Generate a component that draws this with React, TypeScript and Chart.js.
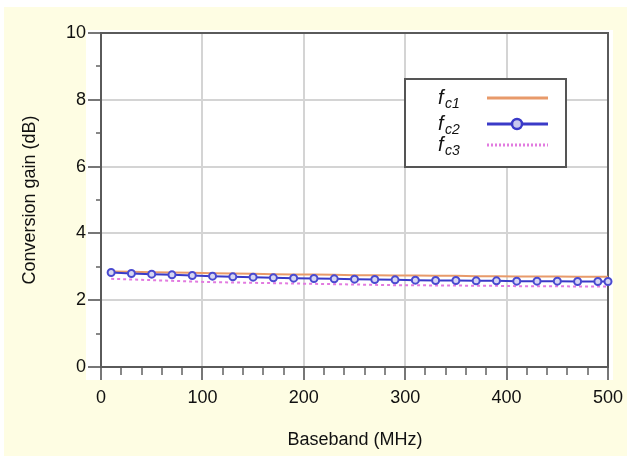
import React, { useEffect, useRef } from "react";
import { Chart, registerables } from "chart.js";

Chart.register(...registerables);

const xValues = [10, 30, 50, 70, 90, 110, 130, 150, 170, 190, 210, 230, 250, 270, 290, 310, 330, 350, 370, 390, 410, 430, 450, 470, 490, 500];
const fc1 = [2.86, 2.85, 2.84, 2.83, 2.82, 2.81, 2.8, 2.79, 2.78, 2.77, 2.77, 2.76, 2.75, 2.75, 2.74, 2.74, 2.73, 2.73, 2.72, 2.72, 2.71, 2.71, 2.71, 2.7, 2.7, 2.7];
const fc2 = [2.83, 2.8, 2.78, 2.76, 2.74, 2.72, 2.7, 2.69, 2.67, 2.66, 2.65, 2.64, 2.63, 2.62, 2.61, 2.6, 2.59, 2.59, 2.58, 2.58, 2.57, 2.57, 2.57, 2.56, 2.56, 2.56];
const fc3 = [2.64, 2.62, 2.6, 2.58, 2.56, 2.54, 2.53, 2.52, 2.51, 2.5, 2.49, 2.48, 2.47, 2.46, 2.45, 2.45, 2.44, 2.44, 2.43, 2.43, 2.42, 2.42, 2.42, 2.41, 2.41, 2.41];
const xTicks = [0, 100, 200, 300, 400, 500];
const yTicks = [0, 2, 4, 6, 8, 10];
const seriesNames = ["c1", "c2", "c3"];
const xTitle = "Baseband (MHz)";
const yTitle = "Conversion gain (dB)";

const ORANGE = "#E89A6A";
const BLUE = "#3A3AC8";
const PINK = "#E27BE0";
const FONT = "'Liberation Sans', Arial, sans-serif";

const decorPlugin = {
  id: "decor",
  beforeDraw(chart: any) {
    const ctx = chart.ctx;
    const { left, right, top, bottom } = chart.chartArea;
    const xs = chart.scales.x;
    const ys = chart.scales.y;
    ctx.save();
    ctx.fillStyle = "#ffffff";
    ctx.fillRect(0, 0, chart.width, chart.height);
    ctx.fillStyle = "#FEFDE3";
    ctx.fillRect(4, 7, 623, 449);
    ctx.fillStyle = "#ffffff";
    ctx.fillRect(left - 15, top - 3, right - left + 20, bottom - top + 16);

    // grid
    ctx.strokeStyle = "#d4d4d4";
    ctx.lineWidth = 2;
    for (const v of xTicks) {
      if (v === 0 || v === 500) continue;
      const px = Math.round(xs.getPixelForValue(v));
      ctx.beginPath();
      ctx.moveTo(px, top);
      ctx.lineTo(px, bottom);
      ctx.stroke();
    }
    for (const v of yTicks) {
      if (v === 0 || v === 10) continue;
      const py = Math.round(ys.getPixelForValue(v));
      ctx.beginPath();
      ctx.moveTo(left, py);
      ctx.lineTo(right, py);
      ctx.stroke();
    }

    // ticks
    ctx.lineWidth = 2;
    for (let v = 0; v <= 500; v += 20) {
      const px = Math.round(xs.getPixelForValue(v));
      const major = v % 100 === 0;
      ctx.strokeStyle = major ? "#777" : "#888";
      ctx.beginPath();
      ctx.moveTo(px, bottom);
      ctx.lineTo(px, bottom + (major ? 13 : 8));
      ctx.stroke();
    }
    for (let v = 0; v <= 10; v += 1) {
      const py = Math.round(ys.getPixelForValue(v));
      const major = v % 2 === 0;
      ctx.strokeStyle = major ? "#777" : "#888";
      ctx.beginPath();
      ctx.moveTo(left, py);
      ctx.lineTo(left - (major ? 13 : 5), py);
      ctx.stroke();
    }

    // frame
    ctx.strokeStyle = "#5a5a5a";
    ctx.lineWidth = 2;
    ctx.strokeRect(left, top, right - left, bottom - top);

    // tick labels
    ctx.fillStyle = "#111";
    ctx.font = `18px ${FONT}`;
    ctx.textAlign = "center";
    ctx.textBaseline = "middle";
    for (const v of xTicks) {
      ctx.fillText(String(v), xs.getPixelForValue(v), bottom + 31);
    }
    ctx.textAlign = "right";
    for (const v of yTicks) {
      ctx.fillText(String(v), left - 15, ys.getPixelForValue(v));
    }

    // titles
    ctx.textAlign = "center";
    ctx.fillText(xTitle, 355, 440);
    ctx.save();
    ctx.translate(30, (top + bottom) / 2);
    ctx.rotate(-Math.PI / 2);
    ctx.fillText(yTitle, 0, 0);
    ctx.restore();
    ctx.restore();
  },
  afterDraw(chart: any) {
    const ctx = chart.ctx;
    ctx.save();
    ctx.fillStyle = "#ffffff";
    ctx.fillRect(405, 79, 161, 88);
    ctx.strokeStyle = "#555";
    ctx.lineWidth = 2;
    ctx.strokeRect(405, 79, 161, 88);
    const rows = [98, 124, 145];
    const colors = [ORANGE, BLUE, PINK];
    rows.forEach((y, i) => {
      ctx.fillStyle = "#111";
      ctx.textBaseline = "middle";
      ctx.textAlign = "left";
      ctx.font = `italic 20px ${FONT}`;
      ctx.fillText("f", 438, y);
      ctx.font = `italic 14px ${FONT}`;
      ctx.fillText(seriesNames[i], 445, y + 6);
      ctx.strokeStyle = colors[i];
      ctx.lineWidth = 3;
      ctx.setLineDash(i === 2 ? [2, 2] : []);
      ctx.beginPath();
      ctx.moveTo(487, y);
      ctx.lineTo(548, y);
      ctx.stroke();
      ctx.setLineDash([]);
      if (i === 1) {
        ctx.beginPath();
        ctx.arc(517, y, 5, 0, Math.PI * 2);
        ctx.fillStyle = "#c9c9ee";
        ctx.fill();
        ctx.lineWidth = 2.5;
        ctx.strokeStyle = BLUE;
        ctx.stroke();
      }
    });
    ctx.restore();
  },
};

export default function App() {
  const ref = useRef<HTMLCanvasElement | null>(null);
  useEffect(() => {
    document.body.style.margin = "0";
    if (!ref.current) return;
    const mk = (arr: number[]) => xValues.map((x, i) => ({ x, y: arr[i] }));
    const chart = new Chart(ref.current, {
      type: "line",
      data: {
        datasets: [
          {
            label: "fc3",
            data: mk(fc3),
            borderColor: PINK,
            borderWidth: 2,
            borderDash: [3, 3],
            pointRadius: 0,
            clip: false,
            order: 3,
          },
          {
            label: "fc1",
            data: mk(fc1),
            borderColor: ORANGE,
            borderWidth: 2,
            pointRadius: 0,
            clip: false,
            order: 2,
          },
          {
            label: "fc2",
            data: mk(fc2),
            borderColor: BLUE,
            borderWidth: 2,
            pointRadius: 3.5,
            pointBorderWidth: 2,
            pointBackgroundColor: "#d6d6f2",
            pointBorderColor: "#4a4ad0",
            clip: false,
            order: 1,
          },
        ] as any,
      },
      options: {
        animation: false,
        responsive: false,
        layout: { padding: { left: 101, right: 22, top: 33, bottom: 97 } },
        plugins: { legend: { display: false }, tooltip: { enabled: false } },
        scales: {
          x: { type: "linear", min: 0, max: 500, display: false },
          y: { type: "linear", min: 0, max: 10, display: false },
        },
      },
      plugins: [decorPlugin],
    });
    return () => chart.destroy();
  }, []);
  return <canvas ref={ref} width={630} height={464} style={{ display: "block" }} />;
}
